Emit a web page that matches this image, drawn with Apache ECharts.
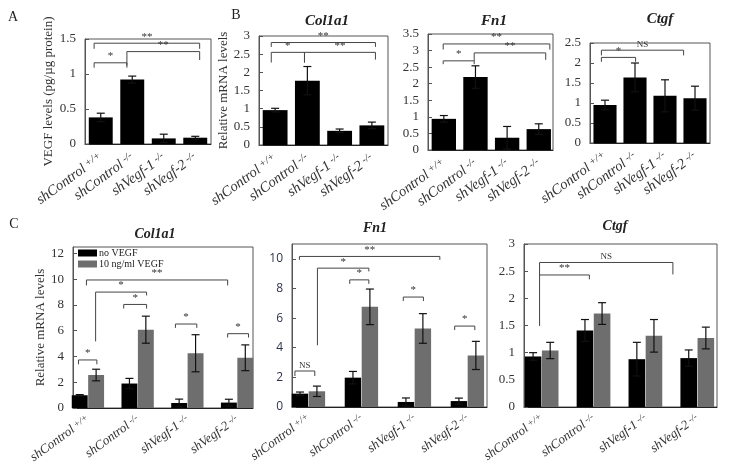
<!DOCTYPE html>
<html><head><meta charset="utf-8">
<script src="https://cdn.jsdelivr.net/npm/echarts@6/dist/echarts.min.js"></script>
<style>html,body{margin:0;padding:0;background:#fff}#c{width:729px;height:475px}</style>
</head><body><div id="c"></div>
<script>
// ---- categories ----
const catMain = ['shControl', 'shControl', 'shVegf-1', 'shVegf-2'];
const catSup = ['+/+', '-/-', '-/-', '-/-'];

// ---- Panel A: VEGF protein ----
const aVegf = [0.38, 0.92, 0.08, 0.09];
const aVegfErr = [0.06, 0.05, 0.06, 0.02];
const aBrackets = [[-0.21, 3.14, 1.44, 0.08, 0.08], [-0.21, 0.83, 1.16, 0.07, 0.07], [0.83, 3.14, 1.32, 0.2, 0.12]];
const aBracketLabels = ['**', '*', '**'];

// ---- Panel B: mRNA ----
const bCol1a1 = [0.96, 1.77, 0.39, 0.54];
const bCol1a1Err = [0.05, 0.39, 0.05, 0.09];
const bCol1a1Brackets = [[-0.12, 3.11, 2.82, 0.12, 0.12], [-0.12, 0.91, 2.55, 0.28, 0.28], [0.91, 3.11, 2.55, 0.28, 0.2]];
const bCol1a1Labels = ['**', '*', '**'];

const bFn1 = [0.94, 2.2, 0.37, 0.63];
const bFn1Err = [0.1, 0.34, 0.34, 0.16];
const bFn1Brackets = [[-0.02, 3.35, 3.2, 0.17, 0.17], [-0.02, 0.96, 2.69, 0.1, 0.1], [0.96, 3.22, 2.93, 0.24, 0.21]];
const bFn1Labels = ['**', '*', '**'];

const bCtgf = [0.95, 1.64, 1.18, 1.12];
const bCtgfErr = [0.12, 0.36, 0.4, 0.3];
const bCtgfBrackets = [[-0.12, 1.02, 2.14, 0.11, 0.11], [-0.12, 2.62, 2.32, 0.13, 0.13]];
const bCtgfLabels = ['*', 'NS'];

// ---- Panel C: with / without VEGF ----
const cCol1a1No = [0.99, 1.9, 0.39, 0.42];
const cCol1a1NoErr = [0.05, 0.4, 0.3, 0.26];
const cCol1a1Vegf = [2.56, 6.08, 4.25, 3.9];
const cCol1a1VegfErr = [0.45, 1.05, 1.44, 1.0];
const cCol1a1Brackets = [[-0.19, 0.18, 3.73, 0.34, 0.34], [-0.03, 2.81, 9.94, 0.42, 0.42], [0.155, 1.18, 9.0, 3.83, 0.26],
  [0.72, 1.18, 8.04, 0.32, 0.32], [1.76, 2.19, 6.52, 0.3, 0.3], [2.81, 3.23, 5.77, 0.3, 0.3]];
const cCol1a1Labels = ['*', '**', '*', '*', '*', '*'];

const cFn1No = [0.9, 1.98, 0.34, 0.4];
const cFn1NoErr = [0.11, 0.42, 0.27, 0.2];
const cFn1Vegf = [1.06, 6.76, 5.3, 3.48];
const cFn1VegfErr = [0.35, 1.2, 1.0, 0.95];
const cFn1Brackets = [[-0.255, 0.12, 2.43, 0.34, 0.34], [-0.17, 2.48, 10.16, 0.23, 0.23], [0.17, 1.14, 9.37, 5.2, 0.22],
  [0.78, 1.14, 8.58, 0.27, 0.27], [1.79, 2.17, 7.42, 0.27, 0.27], [2.76, 3.14, 5.46, 0.27, 0.27]];
const cFn1Labels = ['NS', '**', '*', '*', '*', '*'];

const cCtgfNo = [0.93, 1.41, 0.88, 0.9];
const cCtgfNoErr = [0.07, 0.2, 0.31, 0.15];
const cCtgfVegf = [1.04, 1.72, 1.31, 1.27];
const cCtgfVegfErr = [0.15, 0.2, 0.3, 0.2];
const cCtgfBrackets = [[-0.04, 2.53, 2.66, 1.17, 0.22], [-0.04, 0.92, 2.43, 0, 0.08]];
const cCtgfLabels = ['NS', '**'];

// ---- styling ----
const SERIF = '"Liberation Serif", "DejaVu Serif", serif';
const SANS = '"Open Sans", "Liberation Sans", sans-serif';
const BLACK = '#000000';
const GRAY = '#6e6e6e';

const grids = [
  {left: 85, top: 39, width: 126, height: 105},
  {left: 259, top: 36, width: 129, height: 109},
  {left: 428, top: 34, width: 125, height: 116},
  {left: 590, top: 43, width: 120, height: 100},
  {left: 73, top: 247, width: 180, height: 161},
  {left: 292, top: 244, width: 195, height: 163},
  {left: 524, top: 244, width: 193, height: 163}
];
const xRanges = [[-0.5, 3.5], [-0.5, 3.5], [-0.5, 3.45], [-0.5, 3.5], [-0.3, 3.32], [-0.31, 3.37], [-0.34, 3.38]];
const yRanges = [[1.5, 0.5], [3, 0.5], [3.5, 0.5], [2.5, 0.5], [12.5, 2], [11, 2], [3, 0.5]];
const yNames = ['VEGF levels (pg/µg protein)', 'Relative mRNA levels', '', '', 'Relative mRNA levels', '', ''];
const yNameGaps = [30, 26, 0, 0, 21, 0, 0];

function barRender(w, off, color) {
  return function (params, api) {
    const x = api.value(0) + off, v = api.value(1), e = api.value(2);
    const p0 = api.coord([x - w / 2, 0]), p1 = api.coord([x + w / 2, v]);
    const t = api.coord([x, v + e]), b = api.coord([x, Math.max(v - e, 0)]);
    const cap = 4;
    const ls = {stroke: '#111', lineWidth: 1.2};
    return {type: 'group', children: [
      {type: 'rect', shape: {x: p0[0], y: p1[1], width: p1[0] - p0[0], height: p0[1] - p1[1]}, style: {fill: color}},
      {type: 'line', shape: {x1: t[0], y1: t[1], x2: b[0], y2: b[1]}, style: ls},
      {type: 'line', shape: {x1: t[0] - cap, y1: t[1], x2: t[0] + cap, y2: t[1]}, style: ls},
      {type: 'line', shape: {x1: b[0] - cap, y1: b[1], x2: b[0] + cap, y2: b[1]}, style: ls}
    ]};
  };
}
function bracketRender(br, labels) {
  return function (params, api) {
    const r = br[params.dataIndex];
    const x1 = r[0], x2 = r[1], y = r[2], d1 = r[3], d2 = r[4];
    const a = api.coord([x1, y - d1]), b = api.coord([x1, y]), c = api.coord([x2, y]), d = api.coord([x2, y - d2]);
    const txt = labels[params.dataIndex];
    return {type: 'group', children: [
      {type: 'polyline', shape: {points: [a, b, c, d]}, style: {stroke: '#444', lineWidth: 1, fill: null}},
      {type: 'text', x: (b[0] + c[0]) / 2, y: b[1] - 1,
        style: {text: txt, fill: '#333', font: (txt === 'NS' ? '9px ' : '11px ') + SERIF,
          align: 'center', verticalAlign: 'bottom', textAlign: 'center', textVerticalAlign: 'bottom'}}
    ]};
  };
}
function toData(vals, errs) { return vals.map((v, i) => [i, v, errs[i]]); }

const series = [];
function addBars(gi, name, vals, errs, w, off, color) {
  series.push({type: 'custom', name: name, xAxisIndex: gi, yAxisIndex: gi, itemStyle: {color: color},
    renderItem: barRender(w, off, color), data: toData(vals, errs), encode: {x: 0, y: 1}, silent: true});
}
function addBrackets(gi, br, labels) {
  series.push({type: 'custom', xAxisIndex: gi, yAxisIndex: gi, renderItem: bracketRender(br, labels),
    data: br.map(r => [r[0], r[2]]), encode: {x: 0, y: 1}, silent: true, z: 5});
}
addBars(0, 'A', aVegf, aVegfErr, 0.76, 0, BLACK); addBrackets(0, aBrackets, aBracketLabels);
addBars(1, 'B1', bCol1a1, bCol1a1Err, 0.77, 0, BLACK); addBrackets(1, bCol1a1Brackets, bCol1a1Labels);
addBars(2, 'B2', bFn1, bFn1Err, 0.77, 0, BLACK); addBrackets(2, bFn1Brackets, bFn1Labels);
addBars(3, 'B3', bCtgf, bCtgfErr, 0.77, 0, BLACK); addBrackets(3, bCtgfBrackets, bCtgfLabels);
addBars(4, 'no VEGF', cCol1a1No, cCol1a1NoErr, 0.32, -0.165, BLACK);
addBars(4, '10 ng/ml VEGF', cCol1a1Vegf, cCol1a1VegfErr, 0.32, 0.165, GRAY);
addBrackets(4, cCol1a1Brackets, cCol1a1Labels);
addBars(5, 'no VEGF', cFn1No, cFn1NoErr, 0.31, -0.16, BLACK);
addBars(5, '10 ng/ml VEGF', cFn1Vegf, cFn1VegfErr, 0.31, 0.16, GRAY);
addBrackets(5, cFn1Brackets, cFn1Labels);
addBars(6, 'no VEGF', cCtgfNo, cCtgfNoErr, 0.32, -0.165, BLACK);
addBars(6, '10 ng/ml VEGF', cCtgfVegf, cCtgfVegfErr, 0.32, 0.165, GRAY);
addBrackets(6, cCtgfBrackets, cCtgfLabels);

const xAxes = grids.map((g, i) => {
  const big = i < 4;
  return {type: 'value', gridIndex: i, min: xRanges[i][0], max: xRanges[i][1],
    splitLine: {show: false}, axisTick: {show: false},
    axisLine: {show: true, onZero: false, lineStyle: {color: '#222', width: 1}},
    axisLabel: {customValues: [0, 1, 2, 3], rotate: 36, margin: big ? 12 : 10, color: '#333',
      formatter: v => '{m|' + catMain[Math.round(v)] + '}{s| ' + catSup[Math.round(v)] + '}',
      rich: {m: {fontFamily: SERIF, fontStyle: 'italic', fontSize: big ? 14.5 : 13, color: '#333'},
             s: {fontFamily: SERIF, fontStyle: 'italic', fontSize: big ? 10.5 : 9.5, color: '#333', verticalAlign: 'top'}}}};
});
const yAxes = grids.map((g, i) => ({type: 'value', gridIndex: i, min: 0, max: yRanges[i][0], interval: yRanges[i][1],
  splitLine: {show: false},
  axisLine: {show: true, onZero: false, lineStyle: {color: '#555'}},
  axisTick: {show: true, inside: true, length: 4, lineStyle: {color: '#555'}},
  axisLabel: {color: i === 5 ? '#2f3348' : '#333', fontFamily: i === 5 ? SANS : SERIF, fontSize: i === 5 ? 12 : 13,
    margin: 9, showMaxLabel: (i === 4 || i === 5) ? false : true},
  name: yNames[i], nameLocation: 'middle', nameGap: yNameGaps[i],
  nameTextStyle: {fontFamily: SERIF, fontSize: 13, color: '#333'}
}));

function ttl(text, x, y, size, bold, italic) {
  return {text: text, left: x, top: y, textAlign: 'center', padding: 0,
    textStyle: {fontFamily: SERIF, fontSize: size, fontWeight: bold ? 'bold' : 'normal',
      fontStyle: italic ? 'italic' : 'normal', color: '#222'}};
}

const option = {
  backgroundColor: '#fff',
  animation: false,
  title: [
    ttl('A', 13, 10, 14, false, false), ttl('B', 236, 8, 14, false, false), ttl('C', 14, 217, 14, false, false),
    ttl('Col1a1', 327, 14, 15, true, true), ttl('Fn1', 494, 14, 15, true, true), ttl('Ctgf', 660, 12, 15, true, true),
    ttl('Col1a1', 155, 227, 14, true, true), ttl('Fn1', 375, 221, 14, true, true), ttl('Ctgf', 615, 219, 14, true, true)
  ],
  legend: {left: 78, top: 248, orient: 'vertical', itemWidth: 19, itemHeight: 7, itemGap: 1, padding: 0,
    selectedMode: false,
    textStyle: {fontFamily: SERIF, fontSize: 10, color: '#222', lineHeight: 9, padding: [0, 0, 0, -3]},
    data: [{name: 'no VEGF', icon: 'rect', itemStyle: {color: BLACK}},
           {name: '10 ng/ml VEGF', icon: 'rect', itemStyle: {color: GRAY}}]},
  grid: grids.map(g => Object.assign({show: true, borderColor: '#555', borderWidth: 1, backgroundColor: 'transparent',
    containLabel: false, outerBoundsMode: 'none'}, g)),
  xAxis: xAxes,
  yAxis: yAxes,
  series: series
};
const chart = echarts.init(document.getElementById('c'), null, {renderer: 'canvas'});
chart.setOption(option);
</script>
</body></html>
